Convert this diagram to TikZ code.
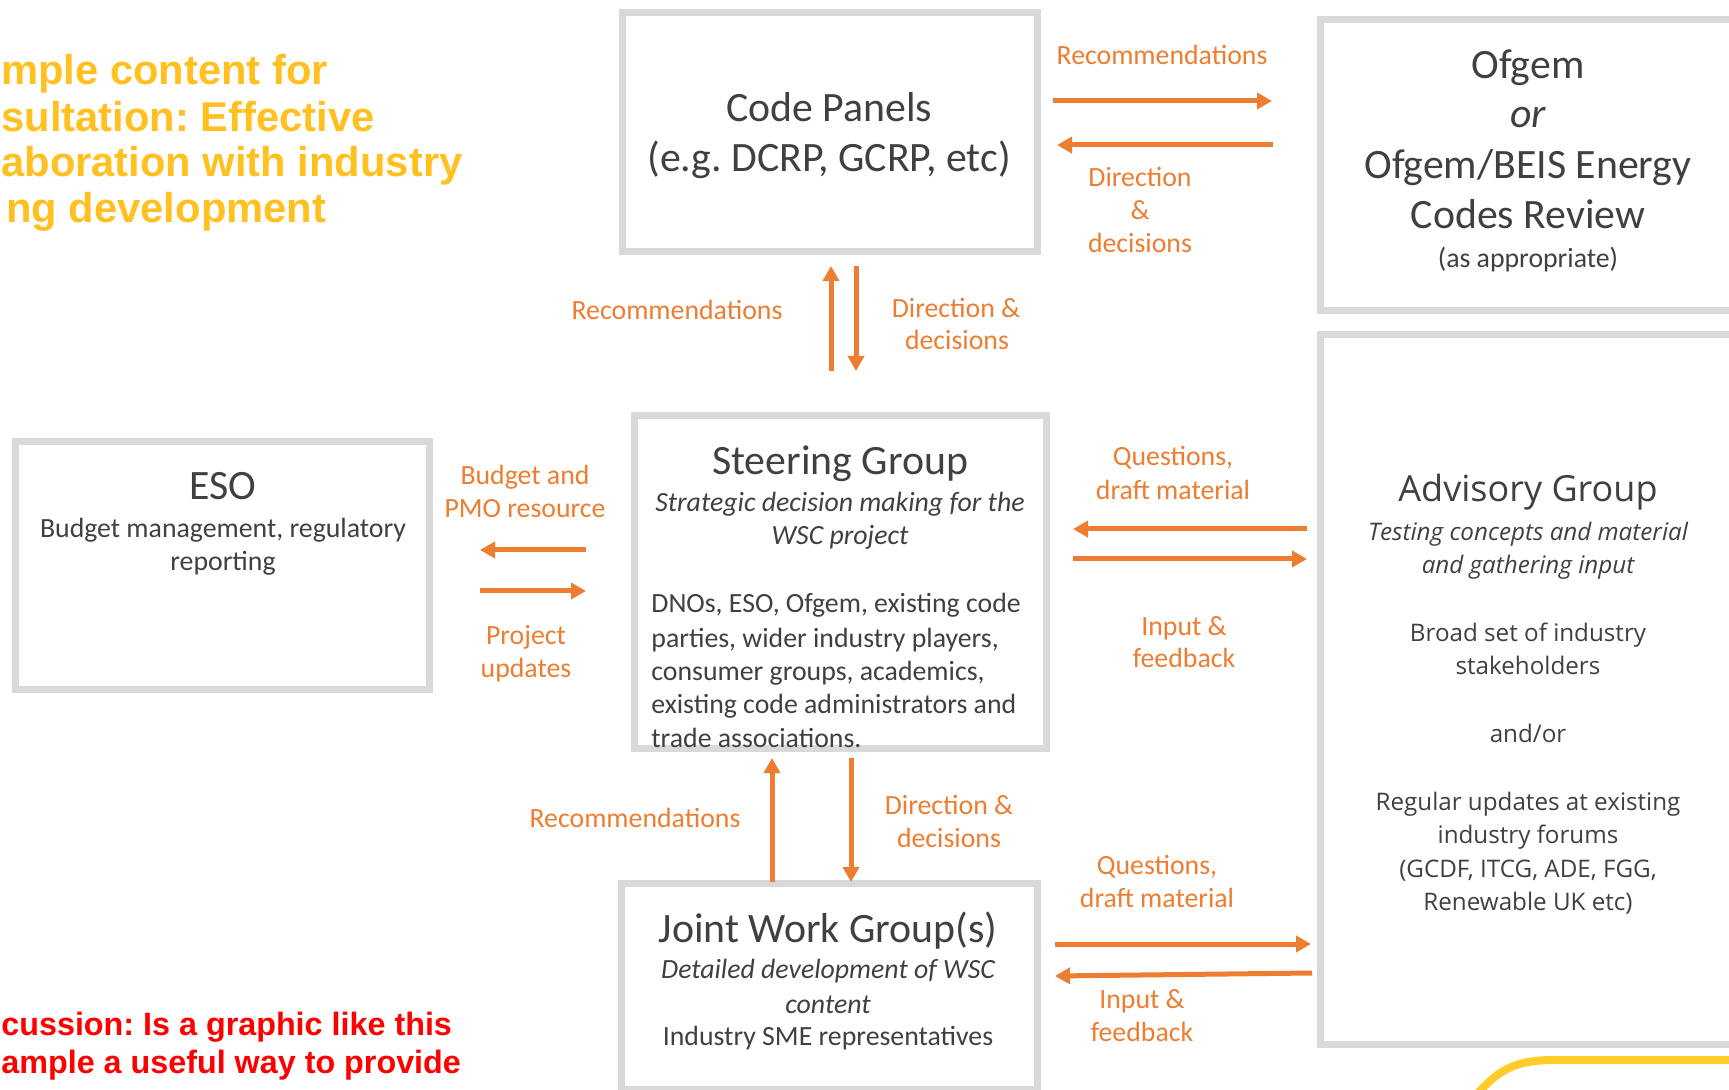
\documentclass[tikz,border=0pt]{standalone}
\usepackage{fontspec}
\setmainfont{Carlito}
\newfontfamily\advfont{Open Sans}
\newfontfamily\arialfont{Liberation Sans}
\usetikzlibrary{arrows.meta}
\definecolor{bordergray}{RGB}{217,217,217}
\definecolor{txt}{RGB}{64,64,64}
\definecolor{orng}{RGB}{237,125,49}
\definecolor{ttlyel}{RGB}{255,192,32}
\definecolor{curveyel}{RGB}{255,204,41}
\definecolor{redt}{RGB}{255,0,0}
\newcommand\tline[5]{\node[#1] (#2) at (#3,#4) {#5};}
\frenchspacing
\begin{document}
\begin{tikzpicture}[x=0.5pt,y=-0.5pt,
  boxst/.style={draw=bordergray, line width=3.5pt, rectangle, inner sep=0pt, fill=white},
  tx/.style={inner sep=0pt, anchor=base, text=txt},
  ttl/.style={tx, font=\fontsize{20.9}{25}\selectfont},
  bod/.style={tx, font=\fontsize{13.9}{17}\selectfont},
  bodi/.style={tx, font=\fontsize{13.9}{17}\selectfont\itshape},
  bodl/.style={bod, anchor=base west},
  lab/.style={inner sep=0pt, anchor=base, text=orng, font=\fontsize{13.9}{17}\selectfont},
  advttl/.style={tx, font=\advfont\fontsize{18}{22}\selectfont},
  advbod/.style={tx, font=\advfont\fontsize{12.1}{15}\selectfont},
  advbodi/.style={tx, font=\advfont\fontsize{12.1}{15}\selectfont\itshape},
  arr/.style={draw=orng, line width=2.5pt, -{Triangle[length=7.5pt,width=8pt]}},
  yt/.style={inner sep=0pt, anchor=base west, text=ttlyel, font=\arialfont\bfseries\fontsize{20.85}{24}\selectfont},
  rt/.style={inner sep=0pt, anchor=base west, text=redt, font=\arialfont\bfseries\fontsize{16.15}{19}\selectfont}
]
\useasboundingbox (0,0) rectangle (1729,1090);
\fill[white] (0,0) rectangle (1729,1090);

% boxes
\node[boxst, minimum width=207.5pt, minimum height=119.25pt] (code) at (829.5,132.25) {};
\node[boxst, minimum width=208.25pt, minimum height=145.5pt] (ofgem) at (1528.75,165.5) {};
\node[boxst, minimum width=208.25pt, minimum height=354.5pt] (adv) at (1528.75,689.5) {};
\node[boxst, minimum width=206.75pt, minimum height=123.75pt] (eso) at (222.25,565.75) {};
\node[boxst, minimum width=206.25pt, minimum height=166.25pt] (steer) at (840.25,582.25) {};
\node[boxst, minimum width=208pt, minimum height=103pt] (jwg) at (829,986) {};

% decorative curve
\draw[curveyel, line width=4pt] (1474,1098) .. controls (1500,1066) and (1520,1060) .. (1556,1060) -- (1740,1060);

% arrow end points
\coordinate (a1s) at (1053,101); \coordinate (a1e) at (1272,101);
\coordinate (a2s) at (1273,145); \coordinate (a2e) at (1057,145);
\coordinate (a3s) at (831,371);  \coordinate (a3e) at (831,266);
\coordinate (a4s) at (856,266);  \coordinate (a4e) at (856,371);
\coordinate (a5s) at (586,550);  \coordinate (a5e) at (480,550);
\coordinate (a6s) at (480,591);  \coordinate (a6e) at (586,591);
\coordinate (a7s) at (1307,529); \coordinate (a7e) at (1073,529);
\coordinate (a8s) at (1073,559); \coordinate (a8e) at (1307,559);
\coordinate (a9s) at (772,882);  \coordinate (a9e) at (772,758);
\coordinate (a10s) at (851,758); \coordinate (a10e) at (851,882);
\coordinate (a11s) at (1055,944); \coordinate (a11e) at (1311,944);
\coordinate (a12s) at (1312,973); \coordinate (a12e) at (1055,976);
\foreach \i in {1,...,12} {\draw[arr] (a\i s) -- (a\i e);}

% title texts
\tline{yt}{y1}{1}{85}{mple content for}
\tline{yt}{y2}{1}{132}{sultation: Effective}
\tline{yt}{y3}{1}{177}{aboration with industry}
\tline{yt}{y4}{6}{223}{ng development}
\tline{rt}{r1}{1}{1035}{cussion: Is a graphic like this}
\tline{rt}{r2}{1}{1073}{ample a useful way to provide}

% Code panels
\tline{ttl}{c1}{829}{122}{Code Panels}
\tline{ttl}{c2}{829}{172}{(e.g. DCRP, GCRP, etc)}
% Ofgem
\tline{ttl}{o1}{1528}{79}{Ofgem}
\tline{ttl}{o2}{1528}{128}{\itshape or}
\tline{ttl}{o3}{1528}{179}{Ofgem/BEIS Energy}
\tline{ttl}{o4}{1528}{229}{Codes Review}
\tline{bod}{o5}{1528}{268}{(as appropriate)}
% ESO
\tline{ttl}{e1}{223}{500}{ESO}
\tline{bod}{e2}{223}{538}{Budget management, regulatory}
\tline{bod}{e3}{223}{571}{reporting}
% Steering
\tline{ttl}{s1}{840}{475}{Steering Group}
\tline{bodi}{s2}{840}{512}{Strategic decision making for the}
\tline{bodi}{s3}{840}{545}{WSC project}
\tline{bodl}{s4}{651}{612}{DNOs, ESO, Ofgem, existing code}
\tline{bodl}{s5}{651}{647}{parties, wider industry players,}
\tline{bodl}{s6}{651}{680}{consumer groups, academics,}
\tline{bodl}{s7}{651}{713}{existing code administrators and}
\tline{bodl}{s8}{651}{747}{trade associations.}
% JWG
\tline{ttl}{j1}{828}{942}{Joint Work Group(s)}
\tline{bodi}{j2}{828}{978}{Detailed development of WSC}
\tline{bodi}{j3}{828}{1013}{content}
\tline{bod}{j4}{828}{1045}{Industry SME representatives}
% Advisory
\tline{advttl}{g1}{1528}{502}{Advisory Group}
\tline{advbodi}{g2}{1528}{541}{Testing concepts and material}
\tline{advbodi}{g3}{1528}{574}{and gathering input}
\tline{advbod}{g4}{1528}{641}{Broad set of industry}
\tline{advbod}{g5}{1528}{675}{stakeholders}
\tline{advbod}{g6}{1528}{742}{and/or}
\tline{advbod}{g7}{1528}{810}{Regular updates at existing}
\tline{advbod}{g8}{1528}{843}{industry forums}
\tline{advbod}{g9}{1528}{877}{(GCDF, ITCG, ADE, FGG,}
\tline{advbod}{g10}{1528}{910}{Renewable UK etc)}

% connector labels
\tline{lab}{l1}{1162}{65}{Recommendations}
\tline{lab}{l2}{1140}{187}{Direction}
\tline{lab}{l3}{1140}{220}{\&}
\tline{lab}{l4}{1140}{253}{decisions}
\tline{lab}{l5}{677}{320}{Recommendations}
\tline{lab}{l6}{956}{318}{Direction \&}
\tline{lab}{l7}{957}{350}{decisions}
\tline{lab}{l8}{525}{485}{Budget and}
\tline{lab}{l9}{525}{518}{PMO resource}
\tline{lab}{l10}{526}{645}{Project}
\tline{lab}{l11}{526}{677}{updates}
\tline{lab}{l12}{1173}{466}{Questions,}
\tline{lab}{l13}{1173}{500}{draft material}
\tline{lab}{l14}{1184}{635}{Input \&}
\tline{lab}{l15}{1184}{668}{feedback}
\tline{lab}{l16}{635}{827}{Recommendations}
\tline{lab}{l17}{949}{814}{Direction \&}
\tline{lab}{l18}{949}{847}{decisions}
\tline{lab}{l19}{1157}{874}{Questions,}
\tline{lab}{l20}{1157}{907}{draft material}
\tline{lab}{l21}{1142}{1008}{Input \&}
\tline{lab}{l22}{1142}{1041}{feedback}
\end{tikzpicture}
\end{document}
